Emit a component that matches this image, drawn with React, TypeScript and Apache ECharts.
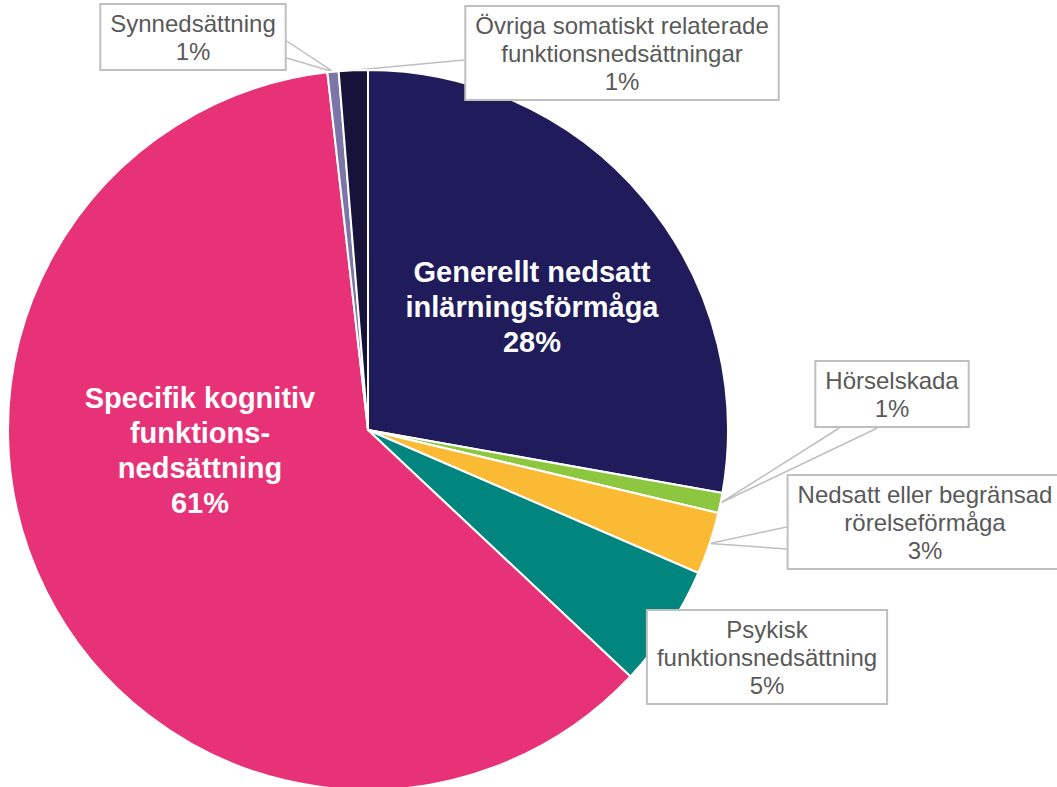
import React, { useEffect, useRef } from 'react';
import * as echarts from 'echarts';

const categories = [
  'Generellt nedsatt inlärningsförmåga',
  'Hörselskada',
  'Nedsatt eller begränsad rörelseförmåga',
  'Psykisk funktionsnedsättning',
  'Specifik kognitiv funktionsnedsättning',
  'Synnedsättning',
  'Övriga somatiskt relaterade funktionsnedsättningar',
];
const values = [27.8, 0.9, 2.8, 5.5, 61.2, 0.5, 1.3];
const percentLabels = ['28%', '1%', '3%', '5%', '61%', '1%', '1%'];
const labelTexts = [
  'Generellt nedsatt\ninlärningsförmåga',
  'Hörselskada',
  'Nedsatt eller begränsad\nrörelseförmåga',
  'Psykisk\nfunktionsnedsättning',
  'Specifik kognitiv\nfunktions-\nnedsättning',
  'Synnedsättning',
  'Övriga somatiskt relaterade\nfunktionsnedsättningar',
];
const colors = ['#201C5C', '#8DC63F', '#FBBA33', '#00857F', '#E83278', '#7B76A8', '#15133A'];

const FONT = '"Liberation Sans", Arial, Helvetica, sans-serif';

export default function App() {
  const ref = useRef<HTMLDivElement>(null);
  useEffect(() => {
    if (!ref.current) return;
    const chart = echarts.init(ref.current, null, { renderer: 'svg' });
    const insideIdx = [0, 4];
    const labelCenters: number[][] = [
      [532, 307],
      [892, 394],
      [925, 522],
      [767, 657],
      [200, 450],
      [193, 37],
      [622, 53],
    ];
    const wedges: Record<number, { side: string; offs: number[] }> = {
      1: { side: 'bottom', offs: [25, 63] },
      2: { side: 'left', offs: [53, 75] },
      5: { side: 'right', offs: [38, 55] },
      6: { side: 'left', offs: [55] },
    };
    const data = categories.map((name, i) => {
      const inside = insideIdx.includes(i);
      return {
        name,
        value: values[i],
        itemStyle: { color: colors[i] },
        label: inside
          ? {
              position: 'inside',
              color: '#ffffff',
              fontWeight: 'bold',
              fontSize: 29,
              lineHeight: 35,
              fontFamily: FONT,
            }
          : {
              position: 'outside',
              color: '#595959',
              fontSize: 24,
              lineHeight: 28,
              fontFamily: FONT,
              backgroundColor: '#ffffff',
              borderColor: '#BFBFBF',
              borderWidth: 2,
              padding: [4, 9],
            },
        labelLine: { show: !!wedges[i] },
      };
    });

    chart.setOption({
      animation: false,
      backgroundColor: '#ffffff',
      series: [
        {
          type: 'pie',
          center: [368, 430],
          radius: 360,
          startAngle: 90,
          clockwise: true,
          avoidLabelOverlap: false,
          itemStyle: { borderColor: '#ffffff', borderWidth: 2 },
          emphasis: { disabled: true },
          label: {
            show: true,
            align: 'center',
            formatter: (p: any) => labelTexts[p.dataIndex] + '\n' + percentLabels[p.dataIndex],
          },
          labelLine: {
            lineStyle: { color: '#BFBFBF', width: 1.5 },
          },
          labelLayout: (params: any) => {
            const i = params.dataIndex;
            const [cx, cy] = labelCenters[i];
            const res: any = { x: cx, y: cy, align: 'center', verticalAlign: 'middle' };
            const w = wedges[i];
            if (w && params.labelLinePoints) {
              const tip = params.labelLinePoints[0];
              const bw = params.labelRect.width;
              const bh = params.labelRect.height;
              const left = cx - bw / 2;
              const top = cy - bh / 2;
              const pts = w.offs.map((o) =>
                w.side === 'left'
                  ? [left, top + o]
                  : w.side === 'right'
                  ? [left + bw, top + o]
                  : [left + o, top + bh]
              );
              res.labelLinePoints = pts.length === 2 ? [pts[0], [tip[0], tip[1]], pts[1]] : [pts[0], [tip[0], tip[1]]];
            }
            return res;
          },
          data,
        },
      ],
    });
    return () => chart.dispose();
  }, []);
  return (
    <div
      ref={ref}
      style={{ position: 'fixed', left: 0, top: 0, width: 1057, height: 787 }}
    />
  );
}
